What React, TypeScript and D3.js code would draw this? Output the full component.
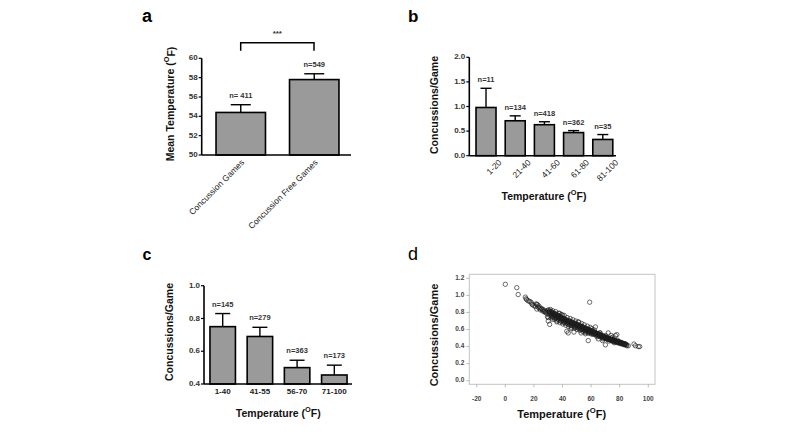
import React from "react";
import * as d3 from "d3";

const FONT = "'Liberation Sans', Arial, Helvetica, sans-serif";

// ---------- Panel a ----------
const aCategories = ["Concussion Games", "Concussion Free Games"];
const aMeans = [54.4, 57.8];
const aErrors = [0.8, 0.6];
const aCounts = ["n= 411", "n=549"];
const aTicks = [50, 52, 54, 56, 58, 60];

// ---------- Panel b ----------
const bCategories = ["1-20", "21-40", "41-60", "61-80", "81-100"];
const bMeans = [0.98, 0.71, 0.63, 0.47, 0.33];
const bErrors = [0.39, 0.1, 0.06, 0.04, 0.1];
const bCounts = ["n=11", "n=134", "n=418", "n=362", "n=35"];
const bTicks = [0, 0.5, 1.0, 1.5, 2.0];

// ---------- Panel c ----------
const cCategories = ["1-40", "41-55", "56-70", "71-100"];
const cMeans = [0.75, 0.69, 0.5, 0.455];
const cErrors = [0.08, 0.056, 0.045, 0.06];
const cCounts = ["n=145", "n=279", "n=363", "n=173"];
const cTicks = [0.4, 0.6, 0.8, 1.0];

// ---------- Panel d ----------
const dXTicks = [-20, 0, 20, 40, 60, 80, 100];
const dYTicks = [0, 0.2, 0.4, 0.6, 0.8, 1.0, 1.2];
const dPoints: [number, number][] = [
  [0, 1.13], [8, 1.09], [9, 1.01], [14, 0.98], [14.5, 0.96], [15, 0.95], [16, 0.935], [17, 0.93],
  [18, 0.92], [18.5, 0.9], [19, 0.89], [20, 0.88], [21, 0.87], [21.5, 0.9], [22, 0.895], [22.5, 0.89],
  [22, 0.84], [23, 0.86], [23.5, 0.875], [24, 0.85], [24.5, 0.83], [25, 0.85], [25.5, 0.84], [26, 0.82],
  [26.5, 0.835], [27, 0.81], [27.5, 0.82], [28, 0.8], [28.5, 0.81], [29, 0.79], [29.5, 0.82], [30, 0.7],
  [30, 0.74], [31, 0.66], [29.5, 0.75], [33, 0.72], [36, 0.69], [43, 0.58], [44, 0.56], [48, 0.57],
  [51, 0.69], [56, 0.55], [58, 0.47], [59, 0.92], [60.5, 0.61], [63, 0.63], [66, 0.56], [70, 0.42],
  [72, 0.56], [74, 0.53], [75, 0.51], [77, 0.53], [78, 0.54], [85, 0.41], [86, 0.41], [90, 0.43],
  [91, 0.41], [93, 0.4], [94, 0.4], [38, 0.79], [40, 0.77], [46, 0.61], [53, 0.56], [65, 0.49], [68, 0.47],
  [30, 0.83], [30.3, 0.8], [30.6, 0.77], [30.8, 0.81], [31, 0.82], [31.3, 0.79], [31.6, 0.765], [31.8, 0.8],
  [32, 0.81], [32.4, 0.78], [32.6, 0.755], [32.9, 0.79], [33, 0.8], [33.3, 0.77], [33.5, 0.745], [33.8, 0.785],
  [34, 0.79], [34.2, 0.765], [34.6, 0.74], [34.8, 0.775], [35, 0.785], [35.3, 0.75], [35.5, 0.73], [35.9, 0.765],
  [36, 0.775], [36.4, 0.745], [36.7, 0.72], [36.9, 0.76], [37, 0.765], [37.2, 0.735], [37.5, 0.71], [37.8, 0.75],
  [38, 0.755], [38.3, 0.73], [38.6, 0.7], [38.9, 0.74], [39, 0.745], [39.4, 0.72], [39.6, 0.695], [39.8, 0.73],
  [40, 0.735], [40.3, 0.71], [40.5, 0.685], [40.8, 0.72], [41, 0.73], [41.3, 0.7], [41.6, 0.68], [41.9, 0.715],
  [42, 0.72], [42.2, 0.695], [42.5, 0.675], [42.8, 0.705], [43, 0.71], [43.4, 0.69], [43.6, 0.665], [43.9, 0.7],
  [44, 0.705], [44.3, 0.68], [44.5, 0.66], [44.8, 0.695], [45, 0.7], [45.2, 0.675], [45.6, 0.65], [45.9, 0.685],
  [46, 0.69], [46.4, 0.665], [46.6, 0.645], [46.8, 0.68], [47, 0.685], [47.3, 0.66], [47.5, 0.64], [47.9, 0.67],
  [48, 0.675], [48.2, 0.655], [48.6, 0.63], [48.8, 0.665], [49, 0.67], [49.4, 0.645], [49.6, 0.625], [49.9, 0.66],
  [50, 0.66], [50.3, 0.64], [50.5, 0.62], [50.8, 0.65], [51, 0.655], [51.2, 0.63], [51.6, 0.61], [51.9, 0.645],
  [52, 0.645], [52.4, 0.625], [52.6, 0.605], [52.8, 0.635], [53, 0.64], [53.3, 0.62], [53.5, 0.6], [53.9, 0.63],
  [54, 0.63], [54.2, 0.61], [54.6, 0.595], [54.8, 0.62], [55, 0.625], [55.4, 0.605], [55.6, 0.585], [55.9, 0.615],
  [56, 0.615], [56.3, 0.595], [56.5, 0.58], [56.8, 0.61], [57, 0.61], [57.2, 0.59], [57.6, 0.575], [57.9, 0.6],
  [58, 0.6], [58.4, 0.585], [58.6, 0.565], [58.8, 0.595], [59, 0.595], [59.3, 0.575], [59.5, 0.56], [59.9, 0.585],
  [60, 0.585], [60.2, 0.57], [60.6, 0.555], [60.8, 0.58], [61, 0.58], [61.4, 0.56], [61.6, 0.545], [61.9, 0.57],
  [62, 0.57], [62.3, 0.555], [62.5, 0.54], [62.8, 0.565], [63, 0.565], [63.2, 0.55], [63.6, 0.535], [63.9, 0.555],
  [64, 0.555], [64.4, 0.54], [64.6, 0.53], [64.8, 0.55], [65, 0.55], [65.3, 0.535], [65.5, 0.52], [65.9, 0.54],
  [66, 0.54], [66.2, 0.525], [66.6, 0.515], [66.8, 0.535], [67, 0.535], [67.4, 0.52], [67.6, 0.51], [67.9, 0.525],
  [68, 0.525], [68.3, 0.515], [68.5, 0.5], [68.8, 0.52], [69, 0.52], [69.2, 0.505], [69.6, 0.495], [69.9, 0.51],
  [70, 0.51], [70.4, 0.5], [70.6, 0.49], [70.8, 0.505], [71, 0.505], [71.3, 0.495], [71.5, 0.485], [71.9, 0.5],
  [72, 0.5], [72.2, 0.49], [72.6, 0.48], [72.8, 0.49], [73, 0.49], [73.4, 0.48], [73.6, 0.475], [73.9, 0.485],
  [74, 0.485], [74.3, 0.475], [74.5, 0.465], [74.8, 0.48], [75, 0.48], [75.2, 0.47], [75.6, 0.46], [75.9, 0.475],
  [76, 0.475], [76.4, 0.465], [76.6, 0.455], [76.8, 0.47], [77, 0.47], [77.3, 0.46], [77.5, 0.45], [77.9, 0.465],
  [78, 0.46], [78.2, 0.455], [78.6, 0.445], [78.8, 0.46], [79, 0.455], [79.4, 0.45], [79.6, 0.44], [79.9, 0.455],
  [80, 0.45], [80.3, 0.445], [80.5, 0.435], [80.8, 0.45], [81, 0.445], [81.2, 0.44], [81.6, 0.43], [81.9, 0.44],
  [82, 0.44], [82.4, 0.435], [82.6, 0.425], [82.8, 0.435], [83, 0.435], [83.3, 0.43], [83.5, 0.42], [83.9, 0.43],
  [84, 0.43], [84.4, 0.425], [84.8, 0.42],
  [31.5, 0.835], [32.5, 0.74], [33.2, 0.82], [34.4, 0.72], [35.2, 0.81], [36.2, 0.7], [37.3, 0.79], [38.2, 0.68],
  [39.2, 0.775], [40.2, 0.665], [41.2, 0.765], [42.3, 0.65], [43.2, 0.74], [44.2, 0.635], [45.3, 0.73], [46.2, 0.625],
  [47.2, 0.715], [48.4, 0.615], [49.2, 0.7], [50.2, 0.6], [51.4, 0.685], [52.2, 0.59], [53.4, 0.67], [54.4, 0.575],
  [55.2, 0.655], [56.2, 0.565], [57.4, 0.64], [58.2, 0.555], [59.4, 0.625], [60.4, 0.545], [62.2, 0.595], [64.2, 0.515],
  [66.4, 0.56], [68.2, 0.49], [70.2, 0.53], [72.4, 0.465], [74.2, 0.5], [76.2, 0.445], [78.4, 0.475],
];

const BAR_FILL = "#9a9a9a";

function TempTitle(props: { x: number; y: number; size: number; rotate?: boolean; text: string; weight?: string }) {
  const { x, y, size, rotate, text, weight } = props;
  return (
    <text
      x={x}
      y={y}
      fontSize={size}
      fontWeight={weight || "bold"}
      fontFamily={FONT}
      textAnchor="middle"
      dominantBaseline="middle"
      fill="#111"
      transform={rotate ? `rotate(-90, ${x}, ${y})` : undefined}
    >
      {text}
      <tspan dy={-size * 0.4} fontSize={size * 0.7}>O</tspan>
      <tspan dy={size * 0.4}>F)</tspan>
    </text>
  );
}

function BarPanel(props: {
  cats: string[];
  means: number[];
  errs: number[];
  counts: string[];
  ticks: number[];
  fmt: (v: number) => string;
  yDomain: [number, number];
  yRange: [number, number];
  xRange: [number, number];
  padIn: number;
  padOut: number;
  capW: number;
  labelGap: number;
  rotated: boolean;
  labelDx: number;
  labelY: number;
  axisEnd: number;
}) {
  const p = props;
  const x = d3.scaleBand<string>().domain(p.cats).range(p.xRange).paddingInner(p.padIn).paddingOuter(p.padOut);
  const y = d3.scaleLinear().domain(p.yDomain).range(p.yRange);
  const x0 = p.xRange[0];
  const yb = y(p.yDomain[0]);
  return (
    <g fontFamily={FONT}>
      {p.cats.map((c, i) => {
        const bx = x(c)!;
        const bw = x.bandwidth();
        const cx = bx + bw / 2;
        const top = y(p.means[i]);
        const et = y(p.means[i] + p.errs[i]);
        return (
          <g key={c}>
            <line x1={cx} x2={cx} y1={top} y2={et} stroke="#000" strokeWidth={1.4} />
            <line x1={cx - p.capW / 2} x2={cx + p.capW / 2} y1={et} y2={et} stroke="#000" strokeWidth={1.4} />
            <rect x={bx} y={top} width={bw} height={yb - top} fill={BAR_FILL} stroke="#000" strokeWidth={1.6} />
            <text x={cx} y={et - p.labelGap} fontSize={7.5} fontWeight="bold" textAnchor="middle" dominantBaseline="middle" fill="#333">
              {p.counts[i]}
            </text>
            {p.rotated ? (
              <text
                x={cx + p.labelDx}
                y={p.labelY}
                fontSize={8.5}
                textAnchor="end"
                dy="0.35em"
                fill="#222"
                transform={`rotate(-45, ${cx + p.labelDx}, ${p.labelY})`}
              >
                {c}
              </text>
            ) : (
              <text x={cx} y={p.labelY} fontSize={8} fontWeight="bold" textAnchor="middle" dominantBaseline="middle" fill="#222">
                {c}
              </text>
            )}
          </g>
        );
      })}
      <line x1={x0} x2={x0} y1={y(p.yDomain[1])} y2={yb} stroke="#000" strokeWidth={1.6} />
      <line x1={x0} x2={p.axisEnd} y1={yb} y2={yb} stroke="#000" strokeWidth={1.6} />
      {p.ticks.map((t) => (
        <g key={t}>
          <line x1={x0 - 3} x2={x0} y1={y(t)} y2={y(t)} stroke="#000" strokeWidth={1.2} />
          <text x={x0 - 4} y={y(t)} fontSize={8} fontWeight="bold" textAnchor="end" dominantBaseline="middle" fill="#333">
            {p.fmt(t)}
          </text>
        </g>
      ))}
    </g>
  );
}

function ScatterPanel() {
  const x = d3.scaleLinear().domain([-25.2, 104.7]).range([469.3, 655]);
  const y = d3.scaleLinear().domain([-0.042, 1.247]).range([384.3, 274.3]);
  const [xl, xr] = x.range();
  const [yb, yt] = y.range();
  return (
    <g fontFamily={FONT}>
      <rect x={xl} y={yt} width={xr - xl} height={yb - yt} fill="none" stroke="#c4c4c4" strokeWidth={1} />
      {dYTicks.map((t) => (
        <g key={t}>
          <line x1={xl - 3} x2={xl} y1={y(t)} y2={y(t)} stroke="#aaa" strokeWidth={0.8} />
          <text x={xl - 5} y={y(t)} fontSize={6.5} fontWeight="bold" textAnchor="end" dominantBaseline="middle" fill="#444">
            {d3.format(".1f")(t)}
          </text>
        </g>
      ))}
      {dXTicks.map((t) => (
        <g key={t}>
          <line x1={x(t)} x2={x(t)} y1={yb} y2={yb + 3} stroke="#aaa" strokeWidth={0.8} />
          <text x={x(t)} y={yb + 14.5} fontSize={6.5} fontWeight="bold" textAnchor="middle" dominantBaseline="middle" fill="#444">
            {t}
          </text>
        </g>
      ))}
      {dPoints.map(([t, r], i) => (
        <circle key={i} cx={x(t)} cy={y(r)} r={2.2} fill="none" stroke="#1a1a1a" strokeOpacity={0.85} strokeWidth={0.75} />
      ))}
    </g>
  );
}

export default function App() {
  return (
    <svg width={800} height={436} style={{ position: "absolute", left: 0, top: 0, background: "#fff" }}>
      <rect x={0} y={0} width={800} height={436} fill="#fff" />
      {/* Panel labels */}
      <text x={142} y={22} fontSize={18} fontWeight="bold" fontFamily={FONT}>a</text>
      <text x={408} y={22} fontSize={17} fontWeight="bold" fontFamily={FONT}>b</text>
      <text x={142.5} y={260} fontSize={16} fontWeight="bold" fontFamily={FONT}>c</text>
      <text x={408} y={259.5} fontSize={18} fontFamily={FONT}>d</text>

      {/* Panel a */}
      <BarPanel
        cats={aCategories}
        means={aMeans}
        errs={aErrors}
        counts={aCounts}
        ticks={aTicks}
        fmt={(v) => String(v)}
        yDomain={[50, 60]}
        yRange={[155, 58.3]}
        xRange={[201.7, 353.3]}
        padIn={0.327}
        padOut={0.195}
        capW={20}
        labelGap={8.5}
        rotated={true}
        labelDx={2}
        labelY={161}
        axisEnd={351}
      />
      <path d="M240.7,50.7 V42.7 H314 V50.7" fill="none" stroke="#000" strokeWidth={1.5} />
      <text x={277.3} y={34} fontSize={8} fontWeight="bold" textAnchor="middle" dominantBaseline="middle" fontFamily={FONT} fill="#333">***</text>
      <TempTitle x={171.7} y={104} size={10.5} rotate text="Mean Temperature (" />

      {/* Panel b */}
      <BarPanel
        cats={bCategories}
        means={bMeans}
        errs={bErrors}
        counts={bCounts}
        ticks={bTicks}
        fmt={d3.format(".1f")}
        yDomain={[0, 2]}
        yRange={[155.7, 57.3]}
        xRange={[469.3, 619.5]}
        padIn={0.315}
        padOut={0.23}
        capW={11}
        labelGap={8}
        rotated={true}
        labelDx={14}
        labelY={161}
        axisEnd={616}
      />
      <text x={435} y={105} fontSize={10.5} fontWeight="bold" fontFamily={FONT} textAnchor="middle" dominantBaseline="middle" transform="rotate(-90, 435, 105)" fill="#111">
        Concussions/Game
      </text>
      <TempTitle x={544} y={197} size={10.5} text="Temperature (" weight="600" />

      {/* Panel c */}
      <BarPanel
        cats={cCategories}
        means={cMeans}
        errs={cErrors}
        counts={cCounts}
        ticks={cTicks}
        fmt={d3.format(".1f")}
        yDomain={[0.4, 1.0]}
        yRange={[384, 285.7]}
        xRange={[204, 353]}
        padIn={0.315}
        padOut={0.16}
        capW={15}
        labelGap={9}
        rotated={false}
        labelDx={0}
        labelY={392}
        axisEnd={352}
      />
      <text x={170.7} y={332} fontSize={10.5} fontWeight="bold" fontFamily={FONT} textAnchor="middle" dominantBaseline="middle" transform="rotate(-90, 170.7, 332)" fill="#111">
        Concussions/Game
      </text>
      <TempTitle x={278.3} y={414} size={10.5} text="Temperature (" />

      {/* Panel d */}
      <ScatterPanel />
      <text x={435} y={335} fontSize={11} fontWeight="bold" fontFamily={FONT} textAnchor="middle" dominantBaseline="middle" transform="rotate(-90, 435, 335)" fill="#111">
        Concussions/Game
      </text>
      <TempTitle x={561.7} y={415} size={11} text="Temperature (" />
    </svg>
  );
}
